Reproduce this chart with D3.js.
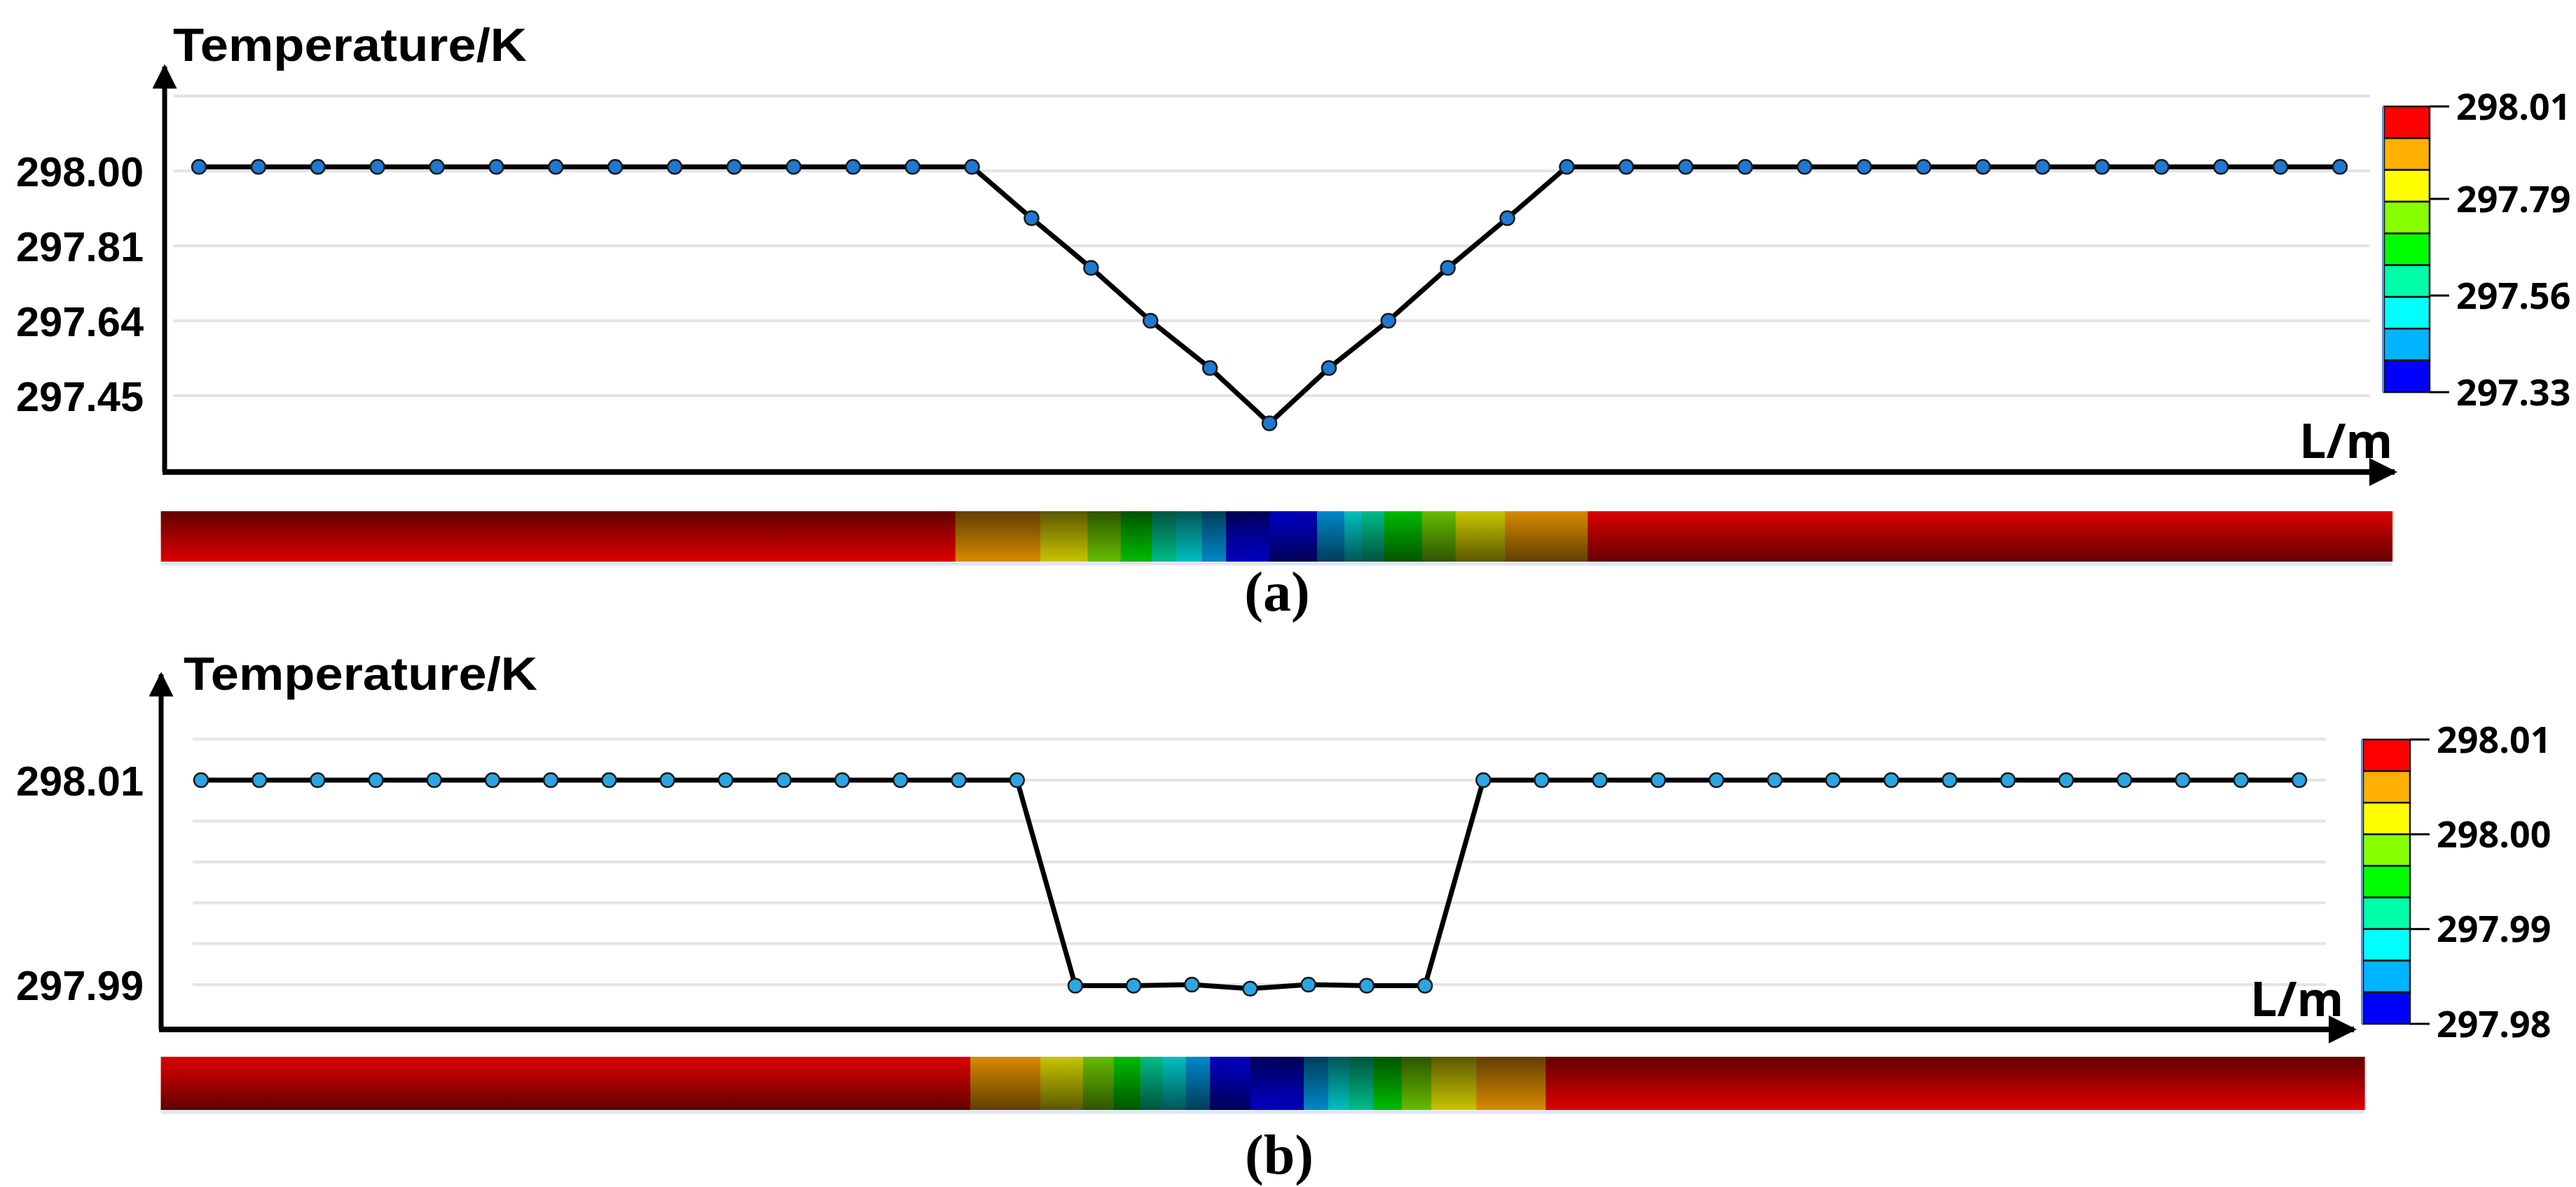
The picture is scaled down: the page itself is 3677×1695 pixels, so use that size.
<!DOCTYPE html>
<html>
<head>
<meta charset="utf-8">
<script src="https://cdn.jsdelivr.net/npm/d3@7"></script>
<style>
  body { margin: 0; background: #fff; }
  svg { display: block; }
</style>
</head>
<body>
<svg id="chart" width="3677" height="1695"></svg>
<script>
// position along the pipe (point index) and temperatures, K
const positions = d3.range(37);
const tempA = [298.01, 298.01, 298.01, 298.01, 298.01, 298.01, 298.01, 298.01, 298.01, 298.01,
  298.01, 298.01, 298.01, 298.01, 297.88, 297.76, 297.64, 297.52, 297.38, 297.52,
  297.64, 297.76, 297.88, 298.01, 298.01, 298.01, 298.01, 298.01, 298.01, 298.01,
  298.01, 298.01, 298.01, 298.01, 298.01, 298.01, 298.01];
const tempB = [298.01, 298.01, 298.01, 298.01, 298.01, 298.01, 298.01, 298.01, 298.01, 298.01,
  298.01, 298.01, 298.01, 298.01, 298.01, 297.9899, 297.9899, 297.9900, 297.9896, 297.9900,
  297.9899, 297.9899, 298.01, 298.01, 298.01, 298.01, 298.01, 298.01, 298.01, 298.01,
  298.01, 298.01, 298.01, 298.01, 298.01, 298.01, 298.01];

const gridA = [297.45, 297.64, 297.81, 298.00, 298.19];
const tickLabelsA = ['297.45', '297.64', '297.81', '298.00'];
const gridB = [297.99, 297.994, 297.998, 298.002, 298.006, 298.01, 298.014];
const tickLabelsB = ['297.99', '298.01'];

const legendTicksA = [298.01, 297.79, 297.56, 297.33];
const legendTicksB = [298.01, 298.00, 297.99, 297.98];

const bandColors = ['#ff0000', '#ffb000', '#ffff00', '#88ff00', '#00ff00', '#00ffaa', '#00ffff', '#00b4ff', '#0000ff'];
const pipeColors = ['#dd0000', '#d88a00', '#c8c400', '#66bb00', '#00bb00', '#00bb88', '#00c0c0', '#0088c8', '#0000bb'];
// contour boundaries along the pipe (in point-index units) and the level of each segment
const pipeEdgesA = [-0.64, 12.72, 14.15, 14.94, 15.5, 16.02, 16.43, 16.86, 17.27, 18.8, 19.26, 19.55, 19.93, 20.57, 21.13, 21.96, 23.35, 36.88];
const pipeEdgesB = [-0.69, 13.2, 14.4, 15.13, 15.66, 16.12, 16.5, 16.89, 17.31, 18.92, 19.34, 19.69, 20.11, 20.6, 21.11, 21.88, 23.07, 37.12];
const pipeLevelsA = [0, 1, 2, 3, 4, 5, 6, 7, 8, 7, 6, 5, 4, 3, 2, 1, 0];
const pipeLevelsB = [0, 1, 2, 3, 4, 5, 6, 7, 8, 7, 6, 5, 4, 3, 2, 1, 0];

const svg = d3.select('#chart');
const defs = svg.append('defs');
defs.append('marker').attr('id', 'arrow').attr('viewBox', '0 0 10 10')
  .attr('refX', 9).attr('refY', 5).attr('markerWidth', 6).attr('markerHeight', 5)
  .attr('markerUnits', 'strokeWidth').attr('orient', 'auto')
  .append('path').attr('d', 'M0,0 L10,5 L0,10 z').attr('fill', '#000');

function shade(id, darkTop) {
  const g = defs.append('linearGradient').attr('id', id).attr('x1', 0).attr('x2', 0).attr('y1', 0).attr('y2', 1);
  g.append('stop').attr('offset', '0%').attr('stop-color', '#000').attr('stop-opacity', darkTop ? 0.55 : 0);
  g.append('stop').attr('offset', '100%').attr('stop-color', '#000').attr('stop-opacity', darkTop ? 0 : 0.55);
}
shade('darkTop', true);
shade('darkBottom', false);

const condensed = '"Liberation Sans Narrow", "Liberation Sans", Arial, sans-serif';

function panel(p) {
  const g = svg.append('g');
  const x = d3.scaleLinear().domain([0, 36]).range(p.xRange);
  const y = p.y;

  // grid
  g.selectAll('.grid').data(p.grid).enter().append('line')
    .attr('x1', p.gridX[0]).attr('x2', p.gridX[1])
    .attr('y1', d => y(d)).attr('y2', d => y(d))
    .attr('stroke', '#e4e4e4').attr('stroke-width', 4);

  // tick labels
  g.selectAll('.tl').data(p.tickLabels).enter().append('text')
    .attr('x', 23).attr('y', d => y(+d)).attr('dy', '0.36em')
    .attr('textLength', 182).attr('lengthAdjust', 'spacingAndGlyphs')
    .attr('font-family', condensed).attr('font-weight', 'bold').attr('font-size', 60)
    .text(d => d);

  // axes
  g.append('line').attr('x1', p.axisX).attr('x2', p.axisX)
    .attr('y1', p.axisY).attr('y2', p.yTop)
    .attr('stroke', '#000').attr('stroke-width', 7).attr('marker-end', 'url(#arrow)');
  g.append('line').attr('x1', p.axisX - 3).attr('x2', p.xEnd)
    .attr('y1', p.axisY).attr('y2', p.axisY)
    .attr('stroke', '#000').attr('stroke-width', 8).attr('marker-end', 'url(#arrow)');

  g.append('text').attr('x', p.title[0]).attr('y', p.title[1])
    .attr('textLength', 505).attr('lengthAdjust', 'spacingAndGlyphs')
    .attr('font-family', condensed).attr('font-weight', 'bold').attr('font-size', 66)
    .text('Temperature/K');
  g.append('text').attr('x', p.lm[0]).attr('y', p.lm[1])
    .attr('font-family', '"Open Sans", "DejaVu Sans", sans-serif').attr('font-weight', 'bold').attr('font-size', 68)
    .text('L/m');

  // line + points
  const line = d3.line().x((d, i) => x(positions[i])).y(d => y(d));
  g.append('path').datum(p.values).attr('d', line)
    .attr('fill', 'none').attr('stroke', '#000').attr('stroke-width', 7).attr('stroke-linejoin', 'round');
  g.selectAll('.pt').data(p.values).enter().append('ellipse')
    .attr('cx', (d, i) => x(positions[i])).attr('cy', d => y(d))
    .attr('rx', 10).attr('ry', 10)
    .attr('fill', p.dot).attr('stroke', '#1a1a1a').attr('stroke-width', 2.5);

  // colour legend
  const c = p.legend;
  const cy = d3.scaleLinear().domain(c.domain).range(c.range);
  const bh = (c.range[0] - c.range[1]) / bandColors.length;
  g.selectAll('.band').data(bandColors).enter().append('rect')
    .attr('x', c.x).attr('width', c.w)
    .attr('y', (d, i) => c.range[1] + i * bh).attr('height', bh)
    .attr('fill', d => d).attr('stroke', '#111').attr('stroke-width', 2.5);
  g.append('rect').attr('x', c.x - 3).attr('y', c.range[1]).attr('width', 3).attr('height', c.range[0] - c.range[1])
    .attr('fill', '#6c8fd0');
  g.selectAll('.ct').data(c.ticks).enter().append('line')
    .attr('x1', c.x + c.w).attr('x2', c.x + c.w + 28)
    .attr('y1', d => cy(d)).attr('y2', d => cy(d)).attr('stroke', '#000').attr('stroke-width', 3);
  g.selectAll('.cl').data(c.ticks).enter().append('text')
    .attr('x', c.x + c.w + 38).attr('y', d => cy(d)).attr('dy', '0.36em')
    .attr('font-family', '"Open Sans", "DejaVu Sans", sans-serif').attr('font-weight', 'bold').attr('font-size', 52)
    .text(d => d.toFixed(2));

  // pipe contour strip
  const pg = g.append('g');
  const segs = p.pipeLevels.map((lv, i) => ({ x0: p.pipeEdges[i], x1: p.pipeEdges[i + 1], lv }));
  pg.selectAll('rect').data(segs).enter().append('rect')
    .attr('x', d => x(d.x0)).attr('width', d => x(d.x1) - x(d.x0) + 0.5)
    .attr('y', p.pipeY[0]).attr('height', p.pipeY[1] - p.pipeY[0])
    .attr('fill', d => pipeColors[d.lv]);
  const core = segs[8];
  pg.append('ellipse')
    .attr('cx', (x(core.x0) + x(core.x1)) / 2).attr('cy', (p.pipeY[0] + p.pipeY[1]) / 2)
    .attr('rx', (x(core.x1) - x(core.x0)) / 2 - 4).attr('ry', (p.pipeY[1] - p.pipeY[0]) / 2 - 6)
    .attr('fill', '#0000c8');
  const mid = x(p.pipeMid);
  pg.append('rect').attr('x', x(p.pipeEdges[0])).attr('width', mid - x(p.pipeEdges[0]))
    .attr('y', p.pipeY[0]).attr('height', p.pipeY[1] - p.pipeY[0]).attr('fill', `url(#${p.shadeLeft})`);
  pg.append('rect').attr('x', mid).attr('width', x(p.pipeEdges[p.pipeEdges.length - 1]) - mid)
    .attr('y', p.pipeY[0]).attr('height', p.pipeY[1] - p.pipeY[0]).attr('fill', `url(#${p.shadeRight})`);
  pg.append('line').attr('x1', x(p.pipeEdges[0])).attr('x2', x(p.pipeEdges[p.pipeEdges.length - 1]))
    .attr('y1', p.pipeY[1] + 3).attr('y2', p.pipeY[1] + 3).attr('stroke', '#dfe6f5').attr('stroke-width', 5);

  g.append('text').attr('x', p.caption[0]).attr('y', p.caption[1]).attr('text-anchor', 'middle')
    .attr('font-family', '"Liberation Serif", "Times New Roman", serif').attr('font-weight', 'bold').attr('font-size', 80)
    .text(p.label);
}

panel({
  values: tempA, grid: gridA, tickLabels: tickLabelsA,
  xRange: [284, 3340],
  y: d3.scaleLinear().domain([297.45, 297.64, 297.81, 298.00]).range([565, 458, 351, 244]),
  gridX: [247, 3383], axisX: 235, axisY: 674, yTop: 95, xEnd: 3418,
  title: [247, 87], lm: [3282, 654], dot: '#1f78d1',
  legend: { x: 3403, w: 65, domain: [297.33, 298.01], range: [560, 152], ticks: legendTicksA },
  pipeEdges: pipeEdgesA, pipeLevels: pipeLevelsA, pipeY: [730, 802], pipeMid: 18,
  shadeLeft: 'darkTop', shadeRight: 'darkBottom',
  caption: [1823, 872], label: '(a)'
});

panel({
  values: tempB, grid: gridB, tickLabels: tickLabelsB,
  xRange: [287, 3282],
  y: d3.scaleLinear().domain([297.99, 298.01]).range([1406, 1114]),
  gridX: [275, 3320], axisX: 230, axisY: 1470, yTop: 963, xEnd: 3360,
  title: [262, 985], lm: [3212, 1451], dot: '#2ba6e2',
  legend: { x: 3373, w: 67, domain: [297.98, 298.01], range: [1462, 1056], ticks: legendTicksB },
  pipeEdges: pipeEdgesB, pipeLevels: pipeLevelsB, pipeY: [1509, 1585], pipeMid: 18,
  shadeLeft: 'darkBottom', shadeRight: 'darkTop',
  caption: [1826, 1676], label: '(b)'
});
</script>
</body>
</html>
